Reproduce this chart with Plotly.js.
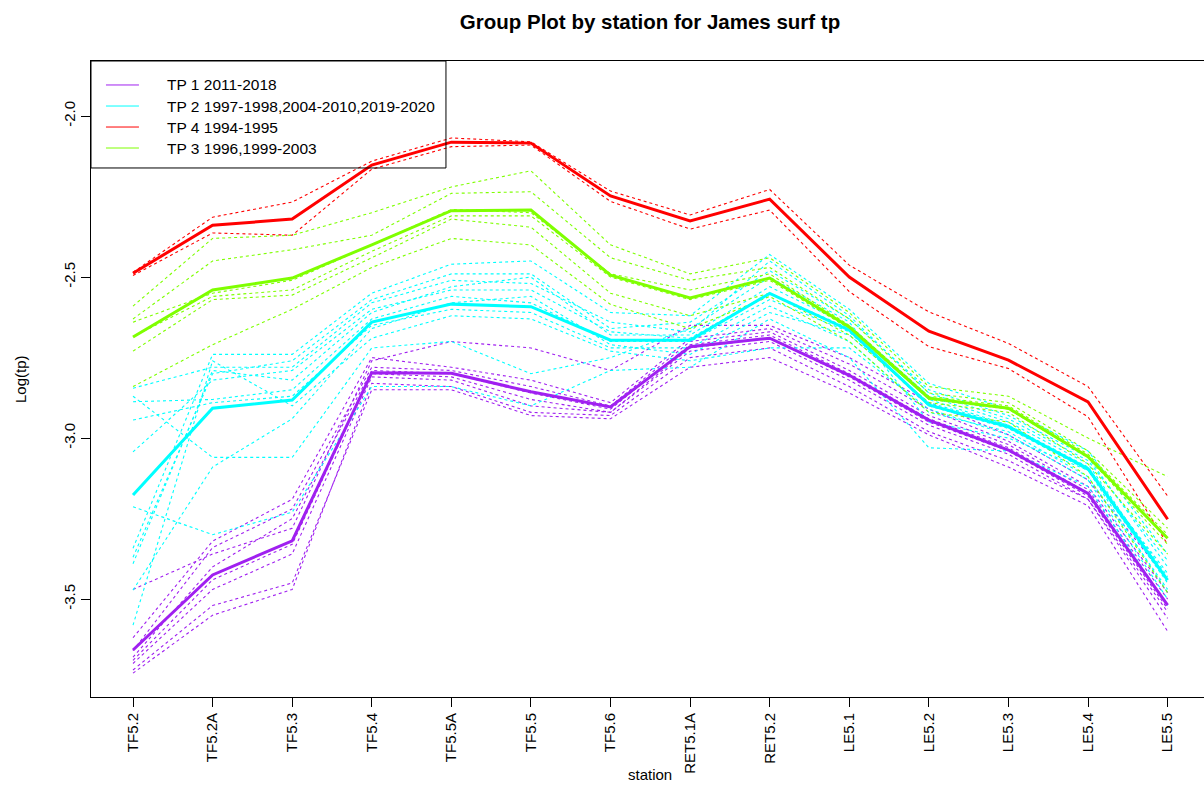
<!DOCTYPE html>
<html><head><meta charset="utf-8">
<script src="https://cdn.plot.ly/plotly-3.0.1.min.js"></script>
<style>html,body{margin:0;padding:0;overflow:hidden;background:#fff}#chart{width:1212px;height:790px}</style>
</head><body><div id="chart"></div>
<script>
const stations = ['TF5.2','TF5.2A','TF5.3','TF5.4','TF5.5A','TF5.5','TF5.6','RET5.1A','RET5.2','LE5.1','LE5.2','LE5.3','LE5.4','LE5.5'];
const yTickVals = [-3.5, -3.0, -2.5, -2.0];
const yTickLabels = ['-3.5', '-3.0', '-2.5', '-2.0'];

const groupNames = ['TP 1 2011-2018', 'TP 2 1997-1998,2004-2010,2019-2020', 'TP 4 1994-1995', 'TP 3 1996,1999-2003'];
const groupColors = ['#A020F0', '#00FFFF', '#FF0000', '#7FFF00'];

// group means (thick lines)
const tp1Mean = [-3.658,-3.425,-3.319,-2.797,-2.799,-2.856,-2.903,-2.716,-2.690,-2.805,-2.944,-3.037,-3.172,-3.519];
const tp2Mean = [-3.177,-2.907,-2.882,-2.640,-2.584,-2.592,-2.696,-2.696,-2.551,-2.665,-2.897,-2.965,-3.095,-3.441];
const tp4Mean = [-2.488,-2.339,-2.320,-2.152,-2.081,-2.084,-2.248,-2.326,-2.258,-2.500,-2.668,-2.758,-2.888,-3.252];
const tp3Mean = [-2.686,-2.540,-2.503,-2.400,-2.294,-2.292,-2.494,-2.565,-2.503,-2.655,-2.876,-2.907,-3.058,-3.311];

// individual years (dotted lines)
const tp1Years = [
  [-3.47,-3.36,-3.28,-2.76,-2.70,-2.72,-2.79,-2.65,-2.65,-2.75,-2.89,-2.99,-3.13,-3.44],
  [-3.62,-3.32,-3.19,-2.75,-2.78,-2.82,-2.89,-2.69,-2.66,-2.77,-2.91,-3.01,-3.15,-3.48],
  [-3.66,-3.34,-3.22,-2.78,-2.79,-2.84,-2.90,-2.70,-2.67,-2.79,-2.93,-3.02,-3.16,-3.50],
  [-3.68,-3.40,-3.25,-2.79,-2.80,-2.86,-2.91,-2.71,-2.68,-2.80,-2.94,-3.03,-3.17,-3.52],
  [-3.69,-3.44,-3.33,-2.80,-2.81,-2.88,-2.92,-2.72,-2.69,-2.81,-2.95,-3.04,-3.18,-3.53],
  [-3.70,-3.47,-3.36,-2.81,-2.82,-2.90,-2.92,-2.73,-2.70,-2.82,-2.96,-3.05,-3.19,-3.54],
  [-3.72,-3.52,-3.45,-2.85,-2.85,-2.93,-2.94,-2.78,-2.75,-2.86,-2.99,-3.09,-3.21,-3.60],
  [-3.73,-3.55,-3.47,-2.83,-2.84,-2.92,-2.93,-2.75,-2.72,-2.84,-2.98,-3.07,-3.19,-3.56]
];
const tp2Years = [
  [-2.870,-3.06,-3.06,-2.72,-2.70,-2.80,-2.75,-2.66,-2.50,-2.64,-2.95,-3.00,-3.10,-3.42],
  [-2.845,-2.78,-2.78,-2.58,-2.51,-2.52,-2.64,-2.67,-2.45,-2.62,-2.86,-2.94,-3.07,-3.38],
  [-2.887,-2.88,-2.85,-2.63,-2.56,-2.58,-2.70,-2.70,-2.57,-2.67,-2.90,-2.97,-3.10,-3.45],
  [-2.944,-2.89,-2.87,-2.65,-2.60,-2.61,-2.72,-2.72,-2.59,-2.70,-2.92,-2.98,-3.12,-3.47],
  [-3.043,-2.82,-2.79,-2.60,-2.54,-2.54,-2.67,-2.69,-2.55,-2.66,-2.88,-2.96,-3.09,-3.43],
  [-3.213,-3.30,-3.23,-2.84,-2.84,-2.90,-2.79,-2.78,-2.63,-2.75,-3.03,-3.04,-3.15,-3.52],
  [-3.342,-2.74,-2.74,-2.55,-2.46,-2.45,-2.61,-2.62,-2.43,-2.60,-2.83,-2.91,-3.04,-3.36],
  [-3.370,-2.80,-2.76,-2.57,-2.49,-2.49,-2.66,-2.64,-2.48,-2.63,-2.85,-2.93,-3.06,-3.40],
  [-3.390,-2.79,-2.82,-2.61,-2.53,-2.50,-2.68,-2.68,-2.53,-2.65,-2.87,-2.95,-3.08,-3.44],
  [-3.472,-3.09,-2.94,-2.66,-2.58,-2.56,-2.71,-2.74,-2.61,-2.68,-2.89,-2.96,-3.10,-3.48],
  [-3.581,-2.76,-2.90,-2.69,-2.62,-2.63,-2.73,-2.76,-2.72,-2.72,-2.91,-2.99,-3.13,-3.50]
];
const tp4Years = [
  [-2.485,-2.314,-2.267,-2.140,-2.068,-2.080,-2.233,-2.307,-2.228,-2.463,-2.608,-2.706,-2.840,-3.180],
  [-2.495,-2.363,-2.370,-2.165,-2.095,-2.090,-2.265,-2.351,-2.292,-2.545,-2.716,-2.784,-2.934,-3.330]
];
const tp3Years = [
  [-2.590,-2.38,-2.370,-2.30,-2.22,-2.170,-2.400,-2.49,-2.44,-2.61,-2.84,-2.87,-3.00,-3.12],
  [-2.630,-2.45,-2.415,-2.37,-2.24,-2.235,-2.440,-2.51,-2.47,-2.63,-2.86,-2.89,-3.04,-3.28],
  [-2.640,-2.55,-2.510,-2.40,-2.29,-2.300,-2.490,-2.54,-2.49,-2.65,-2.87,-2.90,-3.05,-3.30],
  [-2.685,-2.56,-2.540,-2.42,-2.31,-2.310,-2.500,-2.57,-2.51,-2.66,-2.88,-2.91,-3.06,-3.33],
  [-2.730,-2.57,-2.556,-2.44,-2.32,-2.345,-2.550,-2.62,-2.55,-2.68,-2.89,-2.92,-3.08,-3.36],
  [-2.840,-2.71,-2.600,-2.47,-2.38,-2.400,-2.585,-2.66,-2.56,-2.70,-2.92,-2.95,-3.12,-3.48]
];

const groupYears = [tp1Years, tp2Years, tp4Years, tp3Years];
const groupMeans = [tp1Mean, tp2Mean, tp4Mean, tp3Mean];

const FONT = 'Liberation Sans, Arial, sans-serif';
const traces = [];
groupYears.forEach((years, g) => {
  years.forEach(vals => {
    traces.push({type:'scatter', mode:'lines', x:stations, y:vals,
      line:{color:groupColors[g], width:1.1, dash:'dot'}, showlegend:false, hoverinfo:'skip'});
  });
});
groupMeans.forEach((vals, g) => {
  traces.push({type:'scatter', mode:'lines', x:stations, y:vals, name:groupNames[g],
    line:{color:groupColors[g], width:3}, showlegend:false});
});

// manual R-style legend
const shapes = [{type:'rect', xref:'paper', yref:'paper', x0:0, x1:0.3175, y0:0.8318, y1:1,
  line:{color:'#000', width:1}, fillcolor:'rgba(255,255,255,0)'}];
const annotations = [];
const legY = [0.9623, 0.9292, 0.8962, 0.8632];
groupNames.forEach((nm, i) => {
  shapes.push({type:'line', xref:'paper', yref:'paper', x0:0.0134, x1:0.0429, y0:legY[i], y1:legY[i],
    line:{color:groupColors[i], width:1}});
  annotations.push({xref:'paper', yref:'paper', x:0.066, y:legY[i], xanchor:'left', yanchor:'middle',
    text:nm, showarrow:false, font:{family:FONT, size:15.5, color:'#000'}});
});
annotations.push({xref:'paper', yref:'paper', x:0.5, y:-0.1226, xanchor:'center', yanchor:'middle',
  text:'station', showarrow:false, font:{family:FONT, size:15, color:'#000'}});
annotations.push({xref:'paper', yref:'paper', x:-0.0635, y:0.5, xanchor:'center', yanchor:'middle',
  text:'Log(tp)', textangle:-90, showarrow:false, font:{family:FONT, size:15, color:'#000'}});

const layout = {
  width:1212, height:790,
  margin:{l:91, r:3, t:61, b:93, pad:0},
  paper_bgcolor:'#fff', plot_bgcolor:'#fff',
  title:{text:'<b>Group Plot by station for James surf tp</b>', xref:'paper', x:0.5, xanchor:'center',
    yref:'container', y:0.972, yanchor:'middle', font:{family:FONT, size:20.5, color:'#000'}},
  xaxis:{type:'category', range:[-0.528, 13.52], tickmode:'array', tickvals:stations, ticktext:stations,
    tickangle:-90, ticks:'outside', ticklen:9, tickcolor:'#000', tickwidth:1,
    showline:true, linecolor:'#000', linewidth:1, mirror:true, showgrid:false, zeroline:false,
    tickfont:{family:FONT, size:15, color:'#000'}, automargin:false},
  yaxis:{range:[-3.804, -1.829], tickmode:'array', tickvals:yTickVals, ticktext:yTickLabels,
    tickangle:-90, ticks:'outside', ticklen:9, tickcolor:'#000', tickwidth:1,
    showline:true, linecolor:'#000', linewidth:1, mirror:true, showgrid:false, zeroline:false,
    tickfont:{family:FONT, size:15, color:'#000'}, automargin:false},
  shapes:shapes, annotations:annotations, showlegend:false
};
Plotly.newPlot('chart', traces, layout, {displayModeBar:false, staticPlot:true});
</script></body></html>
